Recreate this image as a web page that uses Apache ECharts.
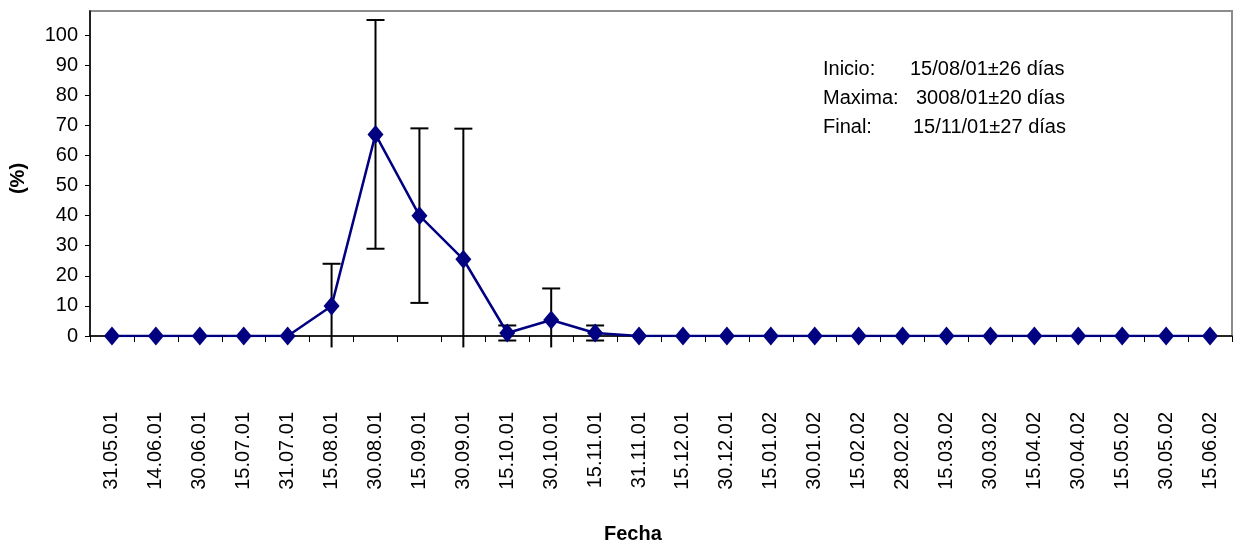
<!DOCTYPE html>
<html>
<head>
<meta charset="utf-8">
<script src="https://cdn.jsdelivr.net/npm/echarts@6/dist/echarts.min.js"></script>
<style>
html,body{margin:0;padding:0;background:#fff;}
#chart{width:1235px;height:547px;}
</style>
</head>
<body>
<div id="chart"></div>
<script>
const categories = ['31.05.01','14.06.01','30.06.01','15.07.01','31.07.01','15.08.01','30.08.01','15.09.01','30.09.01','15.10.01','30.10.01','15.11.01','31.11.01','15.12.01','30.12.01','15.01.02','30.01.02','15.02.02','28.02.02','15.03.02','30.03.02','15.04.02','30.04.02','15.05.02','30.05.02','15.06.02'];
const values = [0,0,0,0,0,10,67,40,25.5,1,5.3,1,0,0,0,0,0,0,0,0,0,0,0,0,0,0];
const errors = [null,null,null,null,null,14,38,29,43.4,2.5,10.5,2.5,null,null,null,null,null,null,null,null,null,null,null,null,null,null];
const yTicks = {min:0, max:108, interval:10};
const notes = [
  ['Inicio:', '15/08/01\u00b126 d\u00edas'],
  ['Maxima:', '3008/01\u00b120 d\u00edas'],
  ['Final:', '15/11/01\u00b127 d\u00edas']
];
const yName = '(%)';
const xName = 'Fecha';

const FONT = "'Liberation Sans', Arial, sans-serif";
const FS = 20;
const CLIP_MIN = -3.8;
const chart = echarts.init(document.getElementById('chart'));

const errData = categories.map((c, i) => [i, values[i], errors[i]]);

const noteGraphics = [];
const noteX = [823, 910, 916, 913];
notes.forEach((n, k) => {
  const y = 70 + k * 29.4;
  noteGraphics.push({type:'text', left:823, top:y - 11, style:{text:n[0], font:FS + 'px ' + FONT, fill:'#000'}});
  noteGraphics.push({type:'text', left:noteX[k+1], top:y - 11, style:{text:n[1], font:FS + 'px ' + FONT, fill:'#000'}});
});
noteGraphics.push({type:'text', left:604, top:524, style:{text:xName, font:'bold ' + FS + 'px ' + FONT, fill:'#000'}});

chart.setOption({
  animation:false,
  backgroundColor:'#fff',
  grid:{left:88, right:3, top:11, bottom:211, show:true, borderColor:'#8c8c8c', borderWidth:2, backgroundColor:'#fff'},
  xAxis:{
    type:'category', data:categories, boundaryGap:true,
    axisLine:{lineStyle:{color:'#000', width:1.5}},
    axisTick:{show:true, alignWithLabel:false, length:6, lineStyle:{color:'#000'}},
    axisLabel:{rotate:90, margin:76, fontSize:FS, fontFamily:FONT, color:'#000', interval:0},
    splitLine:{show:false}
  },
  yAxis:{
    type:'value', min:yTicks.min, max:yTicks.max, interval:yTicks.interval,
    name:yName, nameLocation:'middle', nameGap:62, nameRotate:90,
    nameTextStyle:{fontSize:FS, fontFamily:FONT, fontWeight:'bold', color:'#000', padding:[0,10,0,0]},
    axisLine:{show:true, lineStyle:{color:'#000', width:1.5}},
    axisTick:{show:true, length:5, lineStyle:{color:'#000'}},
    axisLabel:{margin:12, fontSize:FS, fontFamily:FONT, color:'#000', showMaxLabel:false,
      formatter: v => (v % 10 === 0 ? String(v) : '')},
    splitLine:{show:false}
  },
  graphic: noteGraphics,
  series:[
    {
      type:'custom', z:1, clip:false,
      data: errData,
      encode:{x:0, y:1},
      renderItem:function(params, api){
        const i = api.value(0), v = api.value(1), e = errors[params.dataIndex];
        if (e == null) return null;
        const hi = v + e, loRaw = v - e, lo = Math.max(loRaw, CLIP_MIN);
        const pHi = api.coord([i, hi]);
        const pLo = api.coord([i, lo]);
        const cap = 9;
        const st = {stroke:'#000', lineWidth:2};
        const children = [
          {type:'line', shape:{x1:pHi[0], y1:pHi[1], x2:pLo[0], y2:pLo[1]}, style:st},
          {type:'line', shape:{x1:pHi[0]-cap, y1:pHi[1], x2:pHi[0]+cap, y2:pHi[1]}, style:st}
        ];
        if (loRaw >= CLIP_MIN) children.push({type:'line', shape:{x1:pLo[0]-cap, y1:pLo[1], x2:pLo[0]+cap, y2:pLo[1]}, style:st});
        return {type:'group', children:children};
      }
    },
    {
      type:'line', z:3, data:values,
      symbol:'diamond', symbolSize:[16,19], showAllSymbol:true,
      itemStyle:{color:'#000080'},
      lineStyle:{color:'#000080', width:2.5}
    }
  ]
});
</script>
</body>
</html>
